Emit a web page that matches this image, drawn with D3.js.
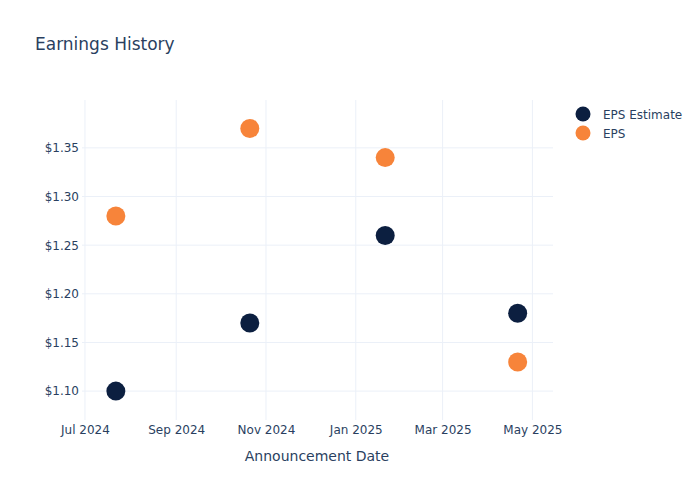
<!DOCTYPE html>
<html>
<head>
<meta charset="utf-8">
<script src="https://cdn.jsdelivr.net/npm/d3@7"></script>
<style>
  html, body { margin: 0; padding: 0; background: #fff; }
  svg { display: block; font-family: "DejaVu Sans", sans-serif; }
</style>
</head>
<body>
<svg id="chart" width="700" height="500"></svg>
<script>
// ---- data ----
const dates = ["2024-07-22", "2024-10-21", "2025-01-21", "2025-04-21"];
const epsEstimate = [1.10, 1.17, 1.26, 1.18];
const epsActual = [1.28, 1.37, 1.34, 1.13];
const xTickDates = ["2024-07-01", "2024-09-01", "2024-11-01", "2025-01-01", "2025-03-01", "2025-05-01"];
const yTicks = [1.10, 1.15, 1.20, 1.25, 1.30, 1.35];
const seriesNames = ["EPS Estimate", "EPS"];
const seriesColors = ["#0c1f40", "#f7843a"];

// ---- layout ----
const svg = d3.select("#chart");
const plotL = 82, plotR = 553, plotT = 100, plotB = 420;
const parse = d3.timeParse("%Y-%m-%d");
const textColor = "#2a3f5f";
const gridColor = "#ebf0f8";
const FONT = "'DejaVu Sans', sans-serif";

const x = d3.scaleTime()
  .domain([parse("2024-06-29"), parse("2025-05-15")])
  .range([plotL, plotR]);
const y = d3.scaleLinear()
  .domain([1.0703, 1.3992])
  .range([plotB, plotT]);

// grid
svg.append("g").selectAll("line").data(xTickDates).join("line")
  .attr("x1", d => x(parse(d))).attr("x2", d => x(parse(d)))
  .attr("y1", plotT).attr("y2", plotB)
  .attr("stroke", gridColor).attr("stroke-width", 1);
svg.append("g").selectAll("line").data(yTicks).join("line")
  .attr("x1", plotL).attr("x2", plotR)
  .attr("y1", d => y(d)).attr("y2", d => y(d))
  .attr("stroke", gridColor).attr("stroke-width", 1);

// axes
const xAxis = d3.axisBottom(x)
  .tickValues(xTickDates.map(parse))
  .tickFormat(d3.timeFormat("%b %Y"))
  .tickSize(0).tickPadding(5);
const gx = svg.append("g").attr("transform", `translate(0,${plotB})`).call(xAxis);
gx.select(".domain").remove();
gx.selectAll("text").attr("fill", textColor).attr("font-size", 12)
  .attr("font-family", FONT);

const yAxis = d3.axisLeft(y)
  .tickValues(yTicks)
  .tickFormat(d => "$" + d3.format(".2f")(d))
  .tickSize(0).tickPadding(3);
const gy = svg.append("g").attr("transform", `translate(${plotL},0)`).call(yAxis);
gy.select(".domain").remove();
gy.selectAll("text").attr("fill", textColor).attr("font-size", 12)
  .attr("font-family", FONT);

// points
const series = [epsEstimate, epsActual];
series.forEach((vals, si) => {
  svg.append("g").selectAll("circle").data(vals).join("circle")
    .attr("cx", (d, i) => x(parse(dates[i])))
    .attr("cy", d => y(d))
    .attr("r", 9.5)
    .attr("fill", seriesColors[si]);
});

// title
svg.append("text").attr("x", 35).attr("y", 50)
  .attr("fill", textColor).attr("font-size", 17)
  .text("Earnings History");

// x axis title
svg.append("text").attr("x", 317).attr("y", 461)
  .attr("text-anchor", "middle")
  .attr("fill", textColor).attr("font-size", 14)
  .text("Announcement Date");

// legend
const lg = svg.append("g");
seriesNames.forEach((name, i) => {
  lg.append("circle").attr("cx", 583).attr("cy", 114 + i * 19).attr("r", 7.5)
    .attr("fill", seriesColors[i]);
  lg.append("text").attr("x", 603).attr("y", 118.5 + i * 19)
    .attr("fill", textColor).attr("font-size", 12)
    .text(name);
});
</script>
</body>
</html>
